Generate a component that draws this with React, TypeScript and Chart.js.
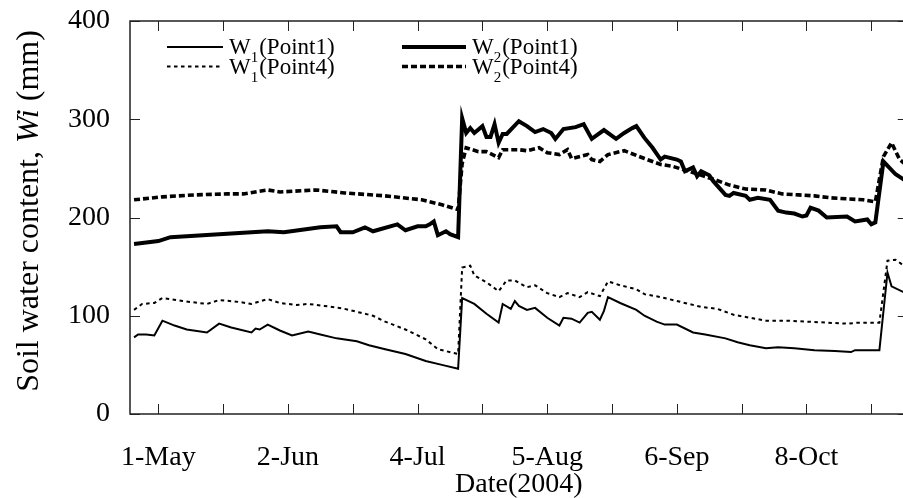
import React, { useEffect, useRef } from 'react';
import { Chart, registerables } from 'chart.js';

Chart.register(...registerables);

const FONT = "'Liberation Serif', 'Times New Roman', serif";

// x values are days counted from 1-May-2004
const xTickDays = [0, 16, 32, 48, 64, 80, 96, 112, 128, 144, 160, 176];
const xTickLabels = ['1-May', '', '2-Jun', '', '4-Jul', '', '5-Aug', '', '6-Sep', '', '8-Oct', ''];
const yTickValues = [0, 100, 200, 300, 400];

const seriesLabels = ['W_1(Point1)', 'W_2(Point1)', 'W_1(Point4)', 'W_2(Point4)'];

const w1p1Days = [-6, -5, -3, -1, 1, 4, 7, 12, 15, 18, 23, 24, 25, 27, 30, 33, 37, 40, 44, 49, 52, 56, 61, 66, 70, 74, 75, 78, 81, 84, 85, 87, 88, 89, 91, 93, 96, 99, 100, 102, 104, 106, 107, 109, 110, 111, 114, 118, 120, 123, 125, 128, 132, 135, 140, 143, 146, 150, 153, 157, 162, 167, 171, 172, 178, 180, 181, 185];
const w1p1Values = [78, 81, 81, 80, 95, 90, 86, 83, 92, 88, 83, 87, 86, 91, 85, 80, 84, 81, 77, 74, 70, 66, 61, 54, 50, 46, 118, 112, 102, 93, 112, 107, 115, 110, 106, 108, 98, 90, 98, 97, 93, 103, 104, 96, 105, 119, 113, 106, 100, 94, 91, 91, 83, 81, 77, 73, 70, 67, 68, 67, 65, 64, 63, 65, 65, 144, 130, 122];

const w2p1Days = [-6, 0, 3, 11, 19, 27, 31, 40, 44, 45, 48, 51, 53, 59, 61, 64, 66, 67, 68, 69, 71, 72, 74, 75, 76, 77, 78, 80, 81, 82, 83, 84, 85, 86, 89, 91, 93, 95, 97, 98, 100, 103, 105, 107, 108, 110, 113, 115, 117, 118, 120, 122, 124, 125, 128, 129, 130, 132, 133, 134, 135, 136, 137, 140, 141, 142, 145, 146, 148, 151, 153, 155, 157, 159, 160, 161, 163, 165, 170, 172, 175, 176, 177, 179, 182, 185];
const w2p1Values = [173, 176, 180, 182, 184, 186, 185, 190, 191, 185, 185, 190, 186, 193, 187, 191, 191, 193, 196, 182, 186, 183, 180, 301, 286, 291, 286, 293, 282, 282, 295, 276, 285, 285, 298, 293, 287, 290, 286, 280, 290, 292, 295, 280, 283, 289, 280, 286, 291, 293, 281, 271, 259, 262, 259, 257, 247, 251, 242, 247, 245, 243, 237, 223, 222, 225, 222, 218, 220, 218, 207, 205, 204, 201, 202, 210, 207, 200, 201, 196, 198, 193, 195, 257, 244, 236];

const w1p4Days = [-6, -4, -1, 1, 6, 12, 15, 20, 23, 27, 30, 34, 37, 41, 46, 50, 53, 56, 61, 66, 69, 74, 75, 77, 78, 81, 84, 86, 88, 91, 93, 96, 99, 101, 104, 106, 109, 111, 114, 118, 120, 124, 129, 134, 138, 142, 146, 150, 155, 160, 165, 170, 173, 178, 180, 182, 185];
const w1p4Values = [106, 112, 113, 118, 115, 112, 116, 114, 112, 117, 113, 111, 112, 110, 107, 103, 100, 94, 86, 76, 66, 61, 149, 151, 141, 134, 125, 136, 136, 129, 131, 123, 119, 123, 119, 124, 120, 135, 131, 127, 122, 119, 114, 109, 107, 101, 98, 95, 95, 94, 93, 92, 93, 93, 156, 157, 148];

const w2p4Days = [-6, 1, 9, 17, 21, 27, 30, 39, 46, 56, 65, 70, 74, 75, 76, 79, 81, 84, 85, 89, 91, 94, 96, 99, 101, 102, 106, 107, 109, 111, 115, 120, 124, 127, 131, 137, 141, 145, 150, 154, 158, 162, 166, 170, 174, 177, 179, 181, 183, 185];
const w2p4Values = [218, 221, 223, 224, 224, 228, 226, 228, 225, 222, 218, 213, 208, 255, 271, 267, 267, 261, 269, 269, 268, 271, 266, 264, 269, 260, 264, 259, 257, 264, 268, 260, 254, 252, 247, 239, 233, 229, 228, 224, 223, 222, 220, 219, 218, 216, 262, 276, 259, 252];

const toPoints = (days: number[], vals: number[]) => days.map((d, i) => ({ x: d, y: vals[i] }));

const boxTicksPlugin = {
  id: 'boxTicks',
  afterDraw(chart: any) {
    const { ctx, chartArea, scales } = chart;
    const { left, right, top, bottom } = chartArea;
    const xs = scales.x;
    const ys = scales.y;
    ctx.save();
    ctx.strokeStyle = '#222';
    ctx.lineWidth = 1;
    ctx.setLineDash([]);
    ctx.beginPath();
    xs.ticks.forEach((t: any) => {
      const px = Math.round(xs.getPixelForValue(t.value)) + 0.5;
      ctx.moveTo(px, bottom); ctx.lineTo(px, bottom - 10);
      ctx.moveTo(px, top); ctx.lineTo(px, top + 10);
    });
    ys.ticks.forEach((t: any) => {
      const py = Math.round(ys.getPixelForValue(t.value)) + 0.5;
      ctx.moveTo(left, py); ctx.lineTo(left + 10, py);
      ctx.moveTo(right, py); ctx.lineTo(right - 10, py);
    });
    ctx.stroke();
    ctx.lineWidth = 1.5;
    ctx.strokeRect(left, top, right - left, bottom - top);
    ctx.restore();
  },
};

const legendPlugin = {
  id: 'customLegend',
  afterDraw(chart: any) {
    const { ctx, chartArea } = chart;
    const { left, top } = chartArea;
    ctx.save();
    chart.data.datasets.forEach((ds: any, i: number) => {
      const col = i % 2;
      const row = Math.floor(i / 2);
      const x0 = left + (col ? 272 : 37);
      const len = col ? 64 : 56;
      const y = top + 26 + row * 19.5;
      ctx.strokeStyle = ds.borderColor;
      ctx.lineWidth = ds.borderWidth;
      ctx.setLineDash(ds.borderDash || []);
      ctx.lineCap = 'butt';
      ctx.beginPath();
      ctx.moveTo(x0, y);
      ctx.lineTo(x0 + len, y);
      ctx.stroke();
      ctx.setLineDash([]);
      const m = /^(.*)_(\d)(.*)$/.exec(ds.label);
      const main = m ? m[1] : ds.label;
      const sub = m ? m[2] : '';
      const rest = m ? m[3] : '';
      let tx = x0 + len + 6;
      const base = y + 7;
      ctx.fillStyle = '#000';
      ctx.textBaseline = 'alphabetic';
      ctx.textAlign = 'left';
      ctx.font = `23px ${FONT}`;
      ctx.fillText(main, tx, base);
      tx += ctx.measureText(main).width;
      ctx.font = `15px ${FONT}`;
      ctx.fillText(sub, tx, base + 8);
      tx += ctx.measureText(sub).width + 1;
      ctx.font = `23px ${FONT}`;
      ctx.fillText(rest, tx, base);
    });
    ctx.restore();
  },
};

const yTitlePlugin = {
  id: 'yTitle',
  afterDraw(chart: any) {
    const { ctx } = chart;
    const parts = [
      { t: 'Soil water content, ', f: `32px ${FONT}` },
      { t: 'Wi', f: `italic 32px ${FONT}` },
      { t: ' (mm)', f: `32px ${FONT}` },
    ];
    ctx.save();
    let total = 0;
    parts.forEach((p) => { ctx.font = p.f; total += ctx.measureText(p.t).width; });
    ctx.translate(30, 211);
    ctx.rotate(-Math.PI / 2);
    ctx.fillStyle = '#000';
    ctx.textBaseline = 'middle';
    ctx.textAlign = 'left';
    let x = -total / 2;
    parts.forEach((p) => { ctx.font = p.f; ctx.fillText(p.t, x, 0); x += ctx.measureText(p.t).width; });
    ctx.restore();
  },
};

export default function App() {
  const ref = useRef<HTMLCanvasElement>(null);
  useEffect(() => {
    const canvas = ref.current;
    if (!canvas) return;
    Chart.defaults.font.family = FONT;
    Chart.defaults.color = '#000';
    const chart = new Chart(canvas, {
      type: 'line',
      data: {
        datasets: [
          { label: seriesLabels[0], data: toPoints(w1p1Days, w1p1Values), borderColor: '#000', borderWidth: 2, pointRadius: 0, tension: 0, fill: false },
          { label: seriesLabels[1], data: toPoints(w2p1Days, w2p1Values), borderColor: '#000', borderWidth: 4, pointRadius: 0, tension: 0, fill: false },
          { label: seriesLabels[2], data: toPoints(w1p4Days, w1p4Values), borderColor: '#000', borderWidth: 2, borderDash: [3.5, 3.5], borderCapStyle: 'butt', pointRadius: 0, tension: 0, fill: false },
          { label: seriesLabels[3], data: toPoints(w2p4Days, w2p4Values), borderColor: '#000', borderWidth: 3.6, borderDash: [6, 3], borderCapStyle: 'butt', pointRadius: 0, tension: 0, fill: false },
        ],
      },
      options: {
        responsive: false,
        animation: false,
        devicePixelRatio: 1,
        layout: { padding: { left: 0, top: 21, right: 12.25, bottom: 0 } },
        plugins: { legend: { display: false }, tooltip: { enabled: false } },
        scales: {
          x: {
            type: 'linear',
            min: -7,
            max: 185,
            afterBuildTicks: (s: any) => { s.ticks = xTickDays.map((v) => ({ value: v })); },
            afterFit: (s: any) => { s.height = 84; s.paddingLeft = 0; s.paddingRight = 0; },
            grid: { display: false, drawTicks: false },
            border: { display: false },
            ticks: {
              autoSkip: false,
              maxRotation: 0,
              padding: 27,
              color: '#000',
              font: { size: 28, family: FONT },
              callback: (v: any) => { const i = xTickDays.indexOf(Number(v)); return i >= 0 ? xTickLabels[i] : ''; },
            },
            title: { display: true, text: 'Date(2004)', color: '#000', font: { size: 28, family: FONT, lineHeight: 0.95 }, padding: { top: 0, bottom: 0 } },
          },
          y: {
            min: 0,
            max: 400,
            afterBuildTicks: (s: any) => { s.ticks = yTickValues.map((v) => ({ value: v })); },
            afterFit: (s: any) => { s.width = 130; s.paddingTop = 0; s.paddingBottom = 0; },
            grid: { display: false, drawTicks: false },
            border: { display: false },
            ticks: { padding: 20, color: '#000', font: { size: 28, family: FONT } },
          },
        },
      },
      plugins: [boxTicksPlugin, legendPlugin, yTitlePlugin],
    } as any);
    return () => chart.destroy();
  }, []);
  return (
    <div style={{ position: 'fixed', left: 0, top: 0, width: 903, height: 498, overflow: 'hidden', background: '#fff' }}>
      <canvas ref={ref} width={920} height={498} style={{ display: 'block', width: 920, height: 498 }} />
    </div>
  );
}
